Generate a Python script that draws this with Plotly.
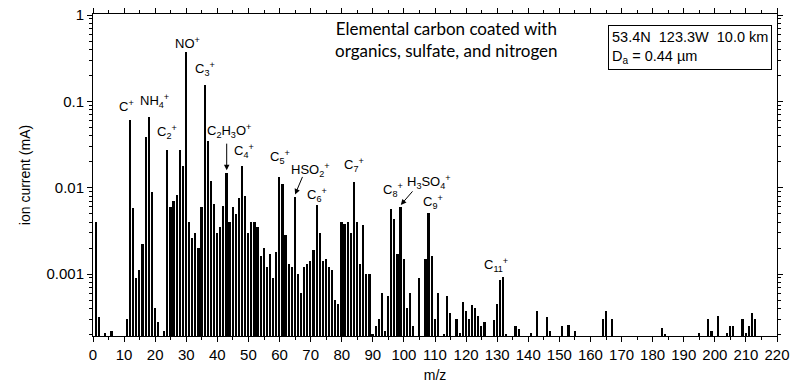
import math
import plotly.graph_objects as go

# Single-particle mass spectrum: m/z (integer) and ion current (mA)
mz = [1, 2, 4, 6, 11, 12, 13, 14, 15, 16, 17, 18, 19, 20, 21, 23, 24, 25, 26, 27,
      28, 29, 30, 31, 32, 33, 34, 35, 36, 37, 38, 39, 40, 41, 42, 43, 44, 45, 46, 47,
      48, 49, 50, 51, 52, 53, 54, 55, 56, 57, 58, 59, 60, 61, 62, 63, 64, 65, 66, 67,
      68, 69, 70, 71, 72, 73, 74, 75, 76, 77, 78, 79, 80, 81, 82, 83, 84, 85, 86, 87,
      88, 89, 90, 91, 92, 93, 94, 95, 96, 97, 98, 99, 100, 101, 102, 103, 105, 107, 108, 109,
      110, 111, 113, 114, 115, 117, 118, 119, 120, 121, 122, 123, 124, 125, 126, 129, 130, 131, 132, 133,
      136, 137, 141, 143, 146, 147, 151, 153, 155, 164, 165, 167, 183, 184, 195, 198, 199, 201, 204, 205,
      206, 209, 210, 211, 212, 213]
ion_current = [0.004, 0.00032, 0.00021, 0.00022, 0.0003, 0.061, 0.0058, 0.0009, 0.0011, 0.0022,
               0.039, 0.066, 0.009, 0.0004, 0.00028, 0.00022, 0.027, 0.006, 0.007, 0.0083,
               0.027, 0.018, 0.376, 0.004, 0.0026, 0.003, 0.002, 0.006, 0.155, 0.035,
               0.012, 0.0065, 0.003, 0.0035, 0.0062, 0.0149, 0.004, 0.006, 0.005, 0.0075,
               0.0178, 0.008, 0.003, 0.004, 0.004, 0.0035, 0.0016, 0.002, 0.0012, 0.0017,
               0.0009, 0.0018, 0.0134, 0.011, 0.0028, 0.0013, 0.0012, 0.0078, 0.001, 0.0006,
               0.0012, 0.0013, 0.0014, 0.0019, 0.0063, 0.003, 0.0014, 0.0015, 0.0012, 0.0011,
               0.0005, 0.00045, 0.004, 0.0038, 0.004, 0.003, 0.0117, 0.004, 0.0013, 0.0037,
               0.001, 0.001, 0.0002, 0.00025, 0.0003, 0.0006, 0.00022, 0.00055, 0.0056, 0.0043,
               0.0017, 0.0059, 0.0015, 0.0004, 0.0006, 0.00025, 0.0009, 0.0015, 0.0051, 0.0016,
               0.0003, 0.0006, 0.0002, 0.00055, 0.00035, 0.0003, 0.00021, 0.00048, 0.00037, 0.0003,
               0.00044, 0.0004, 0.00033, 0.00025, 0.00028, 0.00029, 0.00045, 0.00085, 0.00093, 0.0002,
               0.00025, 0.00023, 0.00021, 0.00037, 0.00032, 0.00022, 0.00025, 0.00026, 0.00022, 0.0003,
               0.00037, 0.0003, 0.00024, 0.0002, 0.00021, 0.0003, 0.00022, 0.00033, 0.00021, 0.00025,
               0.00025, 0.0003, 0.00021, 0.00025, 0.00035, 0.0003]

# Ion assignments: label text, m/z position and log10 height of the label
ion_labels = ["C<sup>+</sup>", "NH<sub>4</sub><sup>+</sup>", "C<sub>2</sub><sup>+</sup>", "NO<sup>+</sup>",
              "C<sub>3</sub><sup>+</sup>", "C<sub>2</sub>H<sub>3</sub>O<sup>+</sup>", "C<sub>4</sub><sup>+</sup>",
              "C<sub>5</sub><sup>+</sup>", "HSO<sub>2</sub><sup>+</sup>", "C<sub>6</sub><sup>+</sup>",
              "C<sub>7</sub><sup>+</sup>", "C<sub>8</sub><sup>+</sup>", "H<sub>3</sub>SO<sub>4</sub><sup>+</sup>",
              "C<sub>9</sub><sup>+</sup>", "C<sub>11</sub><sup>+</sup>"]
label_mz = [10.8, 19.8, 23.9, 30.4, 36.1, 43.8, 48.7, 60.2, 69.9, 72.1, 84.0, 96.5, 108.1, 109.4, 129.6]
label_logy = [-1.05, -0.99, -1.36, -0.32, -0.62, -1.34, -1.58, -1.65, -1.79, -2.09, -1.74, -2.03, -1.93, -2.16, -2.89]

# Arrows pointing at the marked peaks: m/z, ion current, tail offset in px
arrow_mz = [43, 65, 99]
arrow_val = [0.0149, 0.0078, 0.0059]
arrow_dx = [0, 8, 13]
arrow_dy = [-28, -19, -15]

x_ticks = list(range(0, 221, 10))
y_ticks = [0.001, 0.01, 0.1, 1]
y_ticktext = ["0.001", "0.01", "0.1", "1"]
y_minor = [k * 10.0 ** e for e in range(-4, 0) for k in range(2, 10) if k * 10.0 ** e >= 0.0002]

FONT = "Liberation Sans, Arial, sans-serif"

fig = go.Figure()
fig.add_trace(go.Bar(x=mz, y=ion_current, width=0.55,
                     marker=dict(color="black", line=dict(width=0))))

annotations = []
for txt, xm, ly in zip(ion_labels, label_mz, label_logy):
    annotations.append(dict(x=xm, y=ly, xref="x", yref="y", text=txt, showarrow=False,
                            font=dict(family=FONT, size=13, color="black")))
for xm, v, dx, dy in zip(arrow_mz, arrow_val, arrow_dx, arrow_dy):
    annotations.append(dict(x=xm, y=math.log10(v) + 0.03, xref="x", yref="y", text="",
                            showarrow=True, arrowhead=2, arrowsize=1.1, arrowwidth=1,
                            arrowcolor="black", ax=dx, ay=dy))

annotations.append(dict(x=0.517, y=0.995, xref="paper", yref="paper", xanchor="center", yanchor="top",
                        text="Elemental carbon coated with<br>organics, sulfate, and nitrogen",
                        showarrow=False, align="center",
                        font=dict(family="Lato, Open Sans, sans-serif", size=17, color="black")))
annotations.append(dict(x=0.993, y=0.966, xref="paper", yref="paper", xanchor="right", yanchor="top",
                        text="53.4N\u00a0\u00a0123.3W\u00a0\u00a010.0 km<br>D<sub>a</sub> = 0.44 \u00b5m",
                        showarrow=False, align="left", bordercolor="black", borderwidth=1,
                        borderpad=3, bgcolor="white",
                        font=dict(family=FONT, size=14.5, color="black")))

axis_common = dict(showline=True, linecolor="black", linewidth=1, mirror="ticks",
                   ticks="outside", tickcolor="black", tickwidth=1, showgrid=False,
                   zeroline=False, automargin=False,
                   tickfont=dict(family=FONT, size=15, color="black"))

fig.update_layout(
    width=800, height=388,
    margin=dict(l=93, r=23, t=14, b=52),
    paper_bgcolor="white", plot_bgcolor="white",
    showlegend=False, bargap=0,
    annotations=annotations,
    xaxis=dict(range=[0, 220], tickvals=x_ticks, ticklen=5,
               minor=dict(dtick=5, tick0=0, ticks="outside", ticklen=3, tickcolor="black"),
               title=dict(text="m/z", font=dict(family=FONT, size=14, color="black"), standoff=8),
               **axis_common),
    yaxis=dict(type="log", range=[-3.718, 0.012], tickvals=y_ticks, ticktext=y_ticktext, ticklen=5,
               minor=dict(tickvals=y_minor, ticks="outside", ticklen=3, tickcolor="black"),
               title=dict(text="ion current (mA)", font=dict(family=FONT, size=14, color="black"), standoff=12),
               **axis_common),
)

fig.write_html("out.html")
